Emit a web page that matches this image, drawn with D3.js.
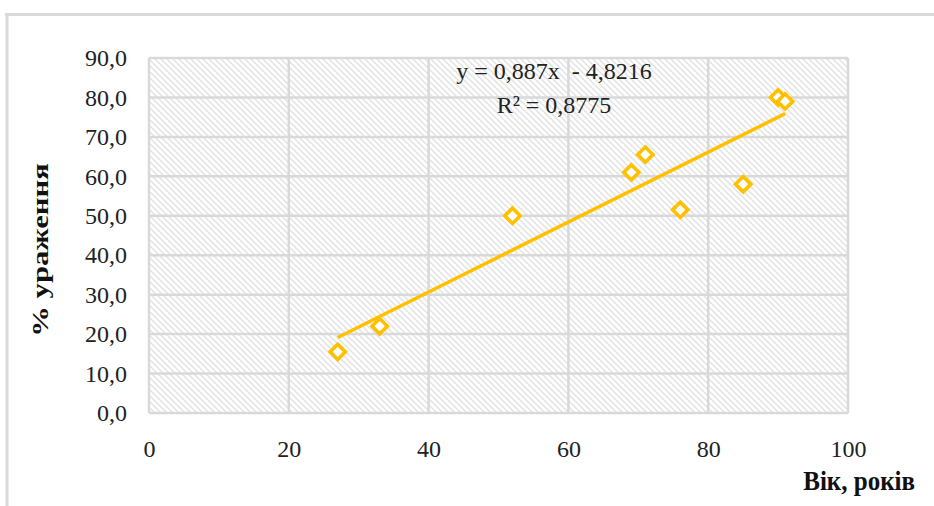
<!DOCTYPE html>
<html>
<head>
<meta charset="utf-8">
<script src="https://cdn.jsdelivr.net/npm/d3@7"></script>
<style>
  html, body { margin: 0; padding: 0; background: #fff; }
  svg { display: block; }
</style>
</head>
<body>
<svg id="chart" width="934" height="506"></svg>
<script>
// ---- data ----
const ages = [27, 33, 52, 69, 71, 76, 85, 90, 91];
const lesion = [15.5, 22, 50, 61, 65.5, 51.5, 58, 80, 79];
const xTicks = [0, 20, 40, 60, 80, 100];
const yTicks = [0, 10, 20, 30, 40, 50, 60, 70, 80, 90];
const trendSlope = 0.887;
const trendIntercept = -4.8216;
const equationLines = ["y = 0,887x  - 4,8216", "R² = 0,8775"];
const xTitle = "Вік, років";
const yTitle = "% ураження";

// ---- layout ----
const svg = d3.select("#chart");
const W = 934, H = 506;
const plot = { left: 149, right: 848, top: 58, bottom: 413 };
const gold = "#FFC000";
const gridCol = "#d9d9d9";
const font = "'Liberation Serif', 'Times New Roman', serif";

const x = d3.scaleLinear().domain([0, 100]).range([plot.left, plot.right]);
const y = d3.scaleLinear().domain([0, 90]).range([plot.bottom, plot.top]);

// outer chart frame (left + top visible)
svg.append("rect").attr("x", 0).attr("y", 0).attr("width", W).attr("height", H).attr("fill", "#fff");
svg.append("line").attr("x1", 5).attr("x2", W).attr("y1", 14.5).attr("y2", 14.5)
  .attr("stroke", gridCol).attr("stroke-width", 3);
svg.append("line").attr("x1", 7).attr("x2", 7).attr("y1", 13).attr("y2", H)
  .attr("stroke", gridCol).attr("stroke-width", 3);

// hatch pattern
const defs = svg.append("defs");
const pat = defs.append("pattern").attr("id", "hatch").attr("patternUnits", "userSpaceOnUse")
  .attr("width", 6).attr("height", 6);
pat.append("rect").attr("width", 6).attr("height", 6).attr("fill", "#fff");
pat.append("path").attr("d", "M-1,-1 L7,7 M-7,-1 L1,7 M5,-1 L13,7")
  .attr("stroke", "#e2e2e2").attr("stroke-width", 1.4);

svg.append("rect")
  .attr("x", plot.left).attr("y", plot.top)
  .attr("width", plot.right - plot.left).attr("height", plot.bottom - plot.top)
  .attr("fill", "url(#hatch)");

// gridlines
svg.append("g").selectAll("line").data(yTicks).join("line")
  .attr("x1", plot.left).attr("x2", plot.right)
  .attr("y1", d => y(d)).attr("y2", d => y(d))
  .attr("stroke", gridCol).attr("stroke-width", 2.5);
svg.append("g").selectAll("line").data(xTicks).join("line")
  .attr("y1", plot.top).attr("y2", plot.bottom)
  .attr("x1", d => x(d)).attr("x2", d => x(d))
  .attr("stroke", gridCol).attr("stroke-width", 2.5);

// axes (labels only)
const yAxis = d3.axisLeft(y).tickValues(yTicks).tickSize(0).tickPadding(22)
  .tickFormat(d => d.toFixed(1).replace(".", ","));
const gy = svg.append("g").attr("transform", `translate(${plot.left},0)`).call(yAxis);
gy.select(".domain").remove();
gy.selectAll("text").attr("font-family", font).attr("font-size", 24).attr("fill", "#222");

const xAxis = d3.axisBottom(x).tickValues(xTicks).tickSize(0).tickPadding(27)
  .tickFormat(d3.format("d"));
const gx = svg.append("g").attr("transform", `translate(0,${plot.bottom})`).call(xAxis);
gx.select(".domain").remove();
gx.selectAll("text").attr("font-family", font).attr("font-size", 24).attr("fill", "#222");

// trend line
const xMin = d3.min(ages), xMax = d3.max(ages);
const trend = [xMin, xMax].map(a => [a, trendSlope * a + trendIntercept]);
svg.append("path")
  .attr("d", d3.line().x(d => x(d[0])).y(d => y(d[1]))(trend))
  .attr("stroke", gold).attr("stroke-width", 3.5).attr("fill", "none");

// markers (diamonds)
const pts = ages.map((a, i) => [a, lesion[i]]);
const sym = d3.symbol().type(d3.symbolDiamond2).size(150);
svg.append("g").selectAll("path").data(pts).join("path")
  .attr("transform", d => `translate(${x(d[0])},${y(d[1])})`)
  .attr("d", sym)
  .attr("fill", "#fff").attr("stroke", gold).attr("stroke-width", 3.6);

// equation
svg.append("g").selectAll("text").data(equationLines).join("text")
  .attr("x", 554).attr("y", (d, i) => 79 + i * 34)
  .attr("text-anchor", "middle")
  .attr("font-family", font).attr("font-size", 24).attr("fill", "#222")
  .attr("xml:space", "preserve").style("white-space", "pre")
  .text(d => d);

// axis titles
svg.append("text")
  .attr("transform", "translate(915,490) scale(1,1.1)")
  .attr("text-anchor", "end")
  .attr("font-family", font).attr("font-size", 25).attr("font-weight", "bold").attr("fill", "#111")
  .text(xTitle);
svg.append("text")
  .attr("transform", "translate(48,250) scale(1,1.28) rotate(-90)")
  .attr("text-anchor", "middle")
  .attr("font-family", font).attr("font-size", 24).attr("font-weight", "bold").attr("fill", "#111")
  .text(yTitle);
</script>
</body>
</html>
